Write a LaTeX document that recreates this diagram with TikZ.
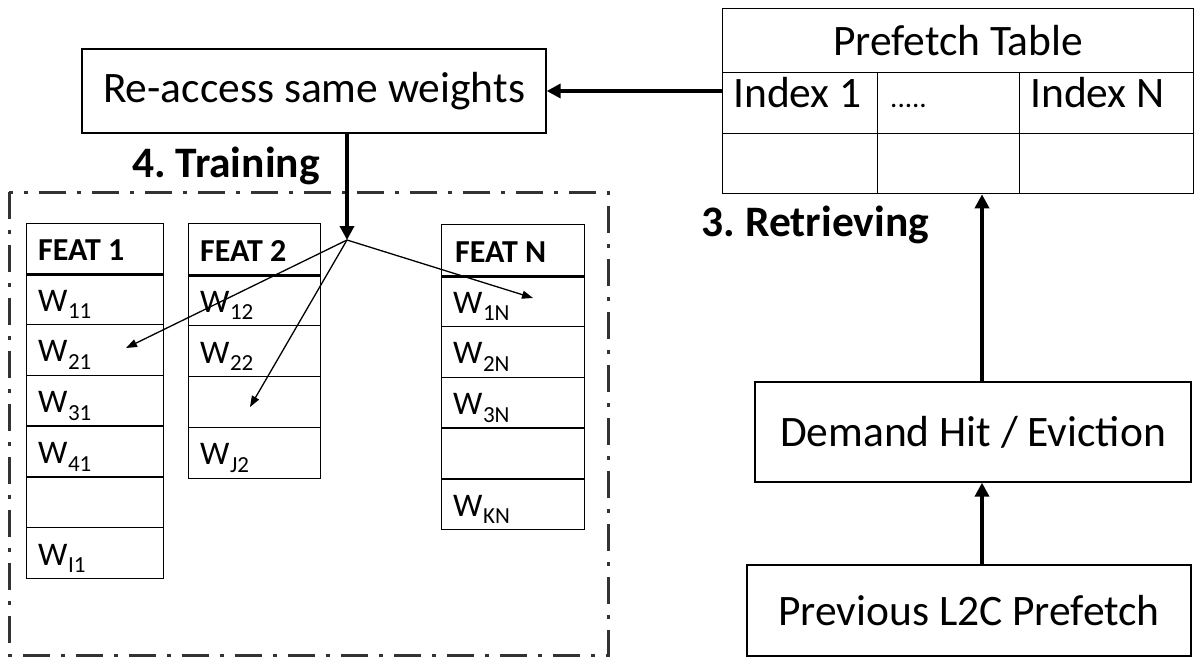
\documentclass[tikz,border=0pt]{standalone}
\usepackage{fontspec}
\setmainfont{Carlito}
\usetikzlibrary{arrows.meta,calc}
\frenchspacing
\newcommand\Wsub[1]{W\kern0.5pt\raisebox{-7.5pt}{\fontsize{23}{23}\selectfont #1}}
\begin{document}
\begin{tikzpicture}[x=1pt,y=-1pt,
  bigfont/.style={font=\fontsize{43.5}{52}\selectfont},
  box/.style={draw=black, line width=1.3pt, inner sep=0pt, bigfont},
  cell/.style={draw=black, line width=1.3pt, inner sep=0pt, anchor=north west},
  wlab/.style={anchor=base west, inner sep=0pt, font=\fontsize{33}{38}\selectfont},
  hlab/.style={anchor=base west, inner sep=0pt, font=\bfseries\fontsize{32}{36}\selectfont},
  tlab/.style={anchor=base west, inner sep=0pt, bigfont},
  steplabel/.style={anchor=base west, inner sep=0pt, font=\bfseries\fontsize{43.5}{52}\selectfont},
  bigarrow/.style={line width=4pt, -{Triangle[length=14pt,width=14pt]}},
  thinarrow/.style={line width=1.3pt, -{Triangle[length=11pt,width=8pt]}},
  headline/.style={line width=3pt},
  dashdotbox/.style={draw=black!80, line width=3pt, dash pattern=on 27pt off 11pt on 4pt off 11pt}
]
\useasboundingbox (0,0) rectangle (1196,658);

% Re-access box
\node[box, minimum width=464pt, minimum height=84pt] (reaccess) at (314,91) {Re-access same weights};

% Prefetch table
\node[cell, minimum width=471pt, minimum height=64pt, bigfont] (ptitle) at (722,8) {Prefetch Table};
\node[cell, minimum width=155pt, minimum height=61pt] (i1) at (722,72) {};
\node[cell, minimum width=142pt, minimum height=61pt] (idots) at (877,72) {};
\node[cell, minimum width=174pt, minimum height=61pt] (iN) at (1019,72) {};
\node[cell, minimum width=155pt, minimum height=60pt] (b1) at (722,133) {};
\node[cell, minimum width=142pt, minimum height=60pt] (b2) at (877,133) {};
\node[cell, minimum width=174pt, minimum height=60pt] (b3) at (1019,133) {};
\node[tlab] (ti1) at ($(i1.south west)+(11,-27)$) {Index 1};
\node[tlab, font=\fontsize{29}{34}\selectfont] (tdots) at ($(idots.south west)+(13,-27)$) {.....};
\node[tlab] (tiN) at ($(iN.south west)+(11,-27)$) {Index N};

% Right column boxes
\node[box, minimum width=436pt, minimum height=100pt] (demand) at (973,432) {Demand Hit / Eviction};
\node[box, minimum width=444pt, minimum height=91pt] (previous) at (969,610.5) {Previous L2C Prefetch};

% Step labels
\node[steplabel] (train) at (132,177) {4. Training};
\node[steplabel] (retr) at (701.7,236.7) {3. Retrieving};

% Dash-dot container
\draw[dashdotbox] (9,192) rectangle (608,655);

% FEAT 1 column
\node[cell, minimum width=137pt, minimum height=50pt] (f1h) at (26,223) {};
\node[cell, minimum width=137pt, minimum height=50.8pt] (f1a) at (26,273) {};
\node[cell, minimum width=137pt, minimum height=50.8pt] (f1b) at (26,323.8) {};
\node[cell, minimum width=137pt, minimum height=50.8pt] (f1c) at (26,374.6) {};
\node[cell, minimum width=137pt, minimum height=50.8pt] (f1d) at (26,425.4) {};
\node[cell, minimum width=137pt, minimum height=50.8pt] (f1e) at (26,476.2) {};
\node[cell, minimum width=137pt, minimum height=50.8pt] (f1f) at (26,527) {};
\draw[headline] (f1h.south west) -- (f1h.south east);
\node[hlab] (h1) at ($(f1h.south west)+(12,-14)$) {FEAT 1};
\node[wlab] (w11) at ($(f1a.south west)+(12,-14)$) {\Wsub{11}};
\node[wlab] (w21) at ($(f1b.south west)+(12,-14)$) {\Wsub{21}};
\node[wlab] (w31) at ($(f1c.south west)+(12,-14)$) {\Wsub{31}};
\node[wlab] (w41) at ($(f1d.south west)+(12,-14)$) {\Wsub{41}};
\node[wlab] (wI1) at ($(f1f.south west)+(12,-14)$) {\Wsub{I1}};

% FEAT 2 column
\node[cell, minimum width=132pt, minimum height=51pt] (f2h) at (188,223) {};
\node[cell, minimum width=132pt, minimum height=50.9pt] (f2a) at (188,274) {};
\node[cell, minimum width=132pt, minimum height=50.9pt] (f2b) at (188,324.9) {};
\node[cell, minimum width=132pt, minimum height=50.9pt] (f2c) at (188,375.8) {};
\node[cell, minimum width=132pt, minimum height=50.9pt] (f2d) at (188,426.7) {};
\draw[headline] (f2h.south west) -- (f2h.south east);
\node[hlab] (h2) at ($(f2h.south west)+(12,-14)$) {FEAT 2};
\node[wlab] (w12) at ($(f2a.south west)+(12,-14)$) {\Wsub{12}};
\node[wlab] (w22) at ($(f2b.south west)+(12,-14)$) {\Wsub{22}};
\node[wlab] (wJ2) at ($(f2d.south west)+(12,-14)$) {\Wsub{J2}};

% FEAT N column
\node[cell, minimum width=143pt, minimum height=51pt] (fnh) at (441,224) {};
\node[cell, minimum width=143pt, minimum height=50.8pt] (fna) at (441,275) {};
\node[cell, minimum width=143pt, minimum height=50.8pt] (fnb) at (441,325.8) {};
\node[cell, minimum width=143pt, minimum height=50.8pt] (fnc) at (441,376.6) {};
\node[cell, minimum width=143pt, minimum height=50.8pt] (fnd) at (441,427.4) {};
\node[cell, minimum width=143pt, minimum height=50.8pt] (fne) at (441,478.2) {};
\draw[headline] (fnh.south west) -- (fnh.south east);
\node[hlab] (hN) at ($(fnh.south west)+(14,-14)$) {FEAT N};
\node[wlab] (w1N) at ($(fna.south west)+(12,-14)$) {\Wsub{1N}};
\node[wlab] (w2N) at ($(fnb.south west)+(12,-14)$) {\Wsub{2N}};
\node[wlab] (w3N) at ($(fnc.south west)+(12,-14)$) {\Wsub{3N}};
\node[wlab] (wKN) at ($(fne.south west)+(12,-14)$) {\Wsub{KN}};

% Connectors
\coordinate (hub) at (347,240);
\coordinate (upx) at (982,0);
\coordinate (t21) at (126,348);
\coordinate (t2e) at (250,407);
\coordinate (t1N) at (533,298);

\draw[bigarrow] (reaccess.east -| i1.west) -- (reaccess.east);
\draw[bigarrow] (reaccess.south -| hub) -- (hub);
\draw[thinarrow] (hub) -- (t21);
\draw[thinarrow] (hub) -- (t2e);
\draw[thinarrow] (hub) -- (t1N);
\draw[bigarrow] (demand.north -| upx) -- (b2.south -| upx);
\draw[bigarrow] (previous.north -| upx) -- (demand.south -| upx);
\end{tikzpicture}
\end{document}
